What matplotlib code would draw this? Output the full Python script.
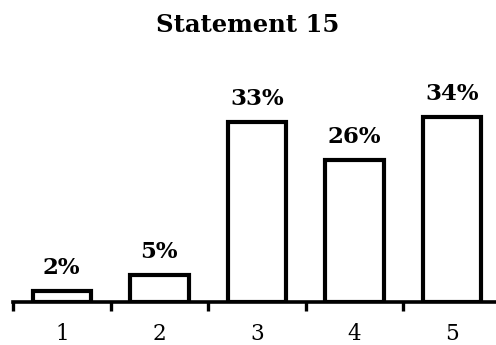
import numpy as np
import matplotlib.pyplot as plt
from matplotlib.ticker import FixedLocator

categories = ["1", "2", "3", "4", "5"]
shares = [2, 5, 33, 26, 34]
title = "Statement 15"

serif = ["DejaVu Serif"]

fig = plt.figure(figsize=(4.96, 3.45), dpi=100)
ax = fig.add_axes([13 / 496, 43 / 345, 487.5 / 496, 218 / 345])

x = np.arange(len(categories))
ax.bar(x, shares, width=0.6, color="white", edgecolor="black", linewidth=3.0, zorder=3)

# value labels over each bar
for xi, v in zip(x, shares):
    ax.annotate(f"{v}%", (xi, v), xytext=(0, 8.5), textcoords="offset points",
                ha="center", va="bottom", fontsize=16.5, fontweight="bold", family=serif)

ax.set_xlim(-0.5, len(categories) - 0.5)
ax.set_ylim(0, 40)

for side in ["left", "right", "top"]:
    ax.spines[side].set_visible(False)
ax.spines["bottom"].set_linewidth(2.6)
ax.spines["bottom"].set_zorder(4)
ax.set_yticks([])

ax.set_xticks(x)
ax.set_xticklabels(categories, fontsize=15.5, family=serif)
ax.tick_params(axis="x", which="major", length=0, pad=15)
ax.xaxis.set_minor_locator(FixedLocator(np.arange(-0.5, len(categories), 1.0)))
ax.tick_params(axis="x", which="minor", length=6.5, width=2.4, direction="out")

fig.text(0.5, 1 - 25 / 345, title, ha="center", va="center",
         fontsize=17.5, fontweight="bold", family=serif)

fig.savefig("out.png", dpi=100)
